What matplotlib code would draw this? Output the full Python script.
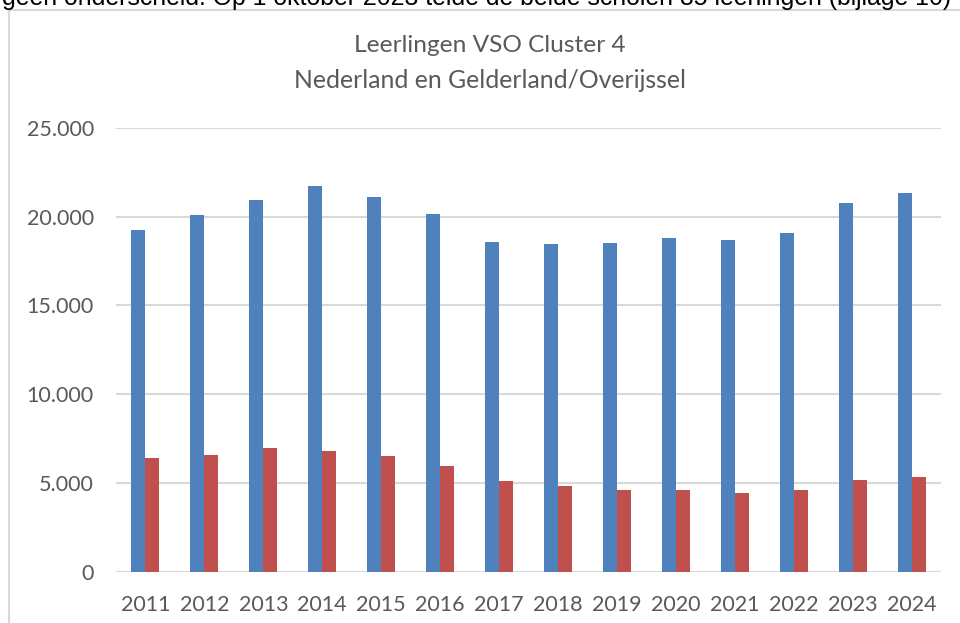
import matplotlib
matplotlib.use("Agg")
import matplotlib.pyplot as plt
import numpy as np
from matplotlib.patches import Rectangle

years = ["2011", "2012", "2013", "2014", "2015", "2016", "2017",
         "2018", "2019", "2020", "2021", "2022", "2023", "2024"]
nederland = [19230, 20100, 20940, 21720, 21110, 20140, 18570,
             18450, 18520, 18800, 18690, 19060, 20750, 21340]
geld_overijssel = [6380, 6570, 6980, 6790, 6530, 5930, 5100,
                   4800, 4590, 4590, 4420, 4580, 5180, 5330]
yticks = [0, 5000, 10000, 15000, 20000, 25000]
ytick_labels = ["0", "5.000", "10.000", "15.000", "20.000", "25.000"]
title_lines = ["Leerlingen VSO Cluster 4", "Nederland en Gelderland/Overijssel"]
top_text = "geen onderscheid. Op 1 oktober 2023 telde de beide scholen 85 leerlingen (bijlage 10)"

W, H = 960, 623
fig = plt.figure(figsize=(W / 100, H / 100), dpi=100)
fig.patch.set_facecolor("white")

CHART_FONT = ["Lato", "DejaVu Sans"]
GRAY = "#595959"

ax = fig.add_axes([116 / W, 1 - 571.5 / H, (941 - 116) / W, (571.5 - 128) / H])
x = np.arange(len(years))
w = 0.238
ax.bar(x - w / 2, nederland, width=w, color="#4F81BD", zorder=3)
ax.bar(x + w / 2, geld_overijssel, width=w, color="#C0504D", zorder=3)
ax.set_xlim(-0.5, len(years) - 0.5)
ax.set_ylim(0, 25000)
ax.set_yticks(yticks)
ax.set_yticklabels(ytick_labels)
ax.set_xticks(x)
ax.set_xticklabels(years)
for sp in ax.spines.values():
    sp.set_visible(False)
ax.yaxis.grid(True, color="#D9D9D9", linewidth=1.5, zorder=0)
ax.set_axisbelow(True)
ax.axhline(0, color="#D9D9D9", linewidth=2, zorder=2)
ax.tick_params(axis="both", length=0, colors=GRAY)
ax.tick_params(axis="y", pad=16)
ax.tick_params(axis="x", pad=17)
for lab in ax.get_xticklabels() + ax.get_yticklabels():
    lab.set_fontfamily(CHART_FONT)
    lab.set_fontsize(15.5)
    lab.set_color(GRAY)

# chart frame
fig.patches.append(Rectangle((9 / W, -0.05), 1.2, 1 - 10 / H + 0.05,
                             transform=fig.transFigure, fill=False,
                             edgecolor="#D9D9D9", linewidth=1.5, zorder=0))

renderer = fig.canvas.get_renderer()

def fit(t, target_px):
    bb = t.get_window_extent(renderer=renderer)
    t.set_fontsize(t.get_fontsize() * target_px / bb.width)

t1 = fig.text(490 / W, 1 - 46 / H, title_lines[0], ha="center", va="center",
              color=GRAY, family=CHART_FONT, fontsize=16)
t2 = fig.text(490 / W, 1 - 80 / H, title_lines[1], ha="center", va="center",
              color=GRAY, family=CHART_FONT, fontsize=16)
fit(t1, 272)
fit(t2, 392)

tt = fig.text(2 / W, 1 - 5 / H, top_text, ha="left", va="baseline",
              color="black", family=["Liberation Sans", "DejaVu Sans"], fontsize=15)
fit(tt, 956)

fig.savefig("out.png", dpi=100, facecolor="white")
